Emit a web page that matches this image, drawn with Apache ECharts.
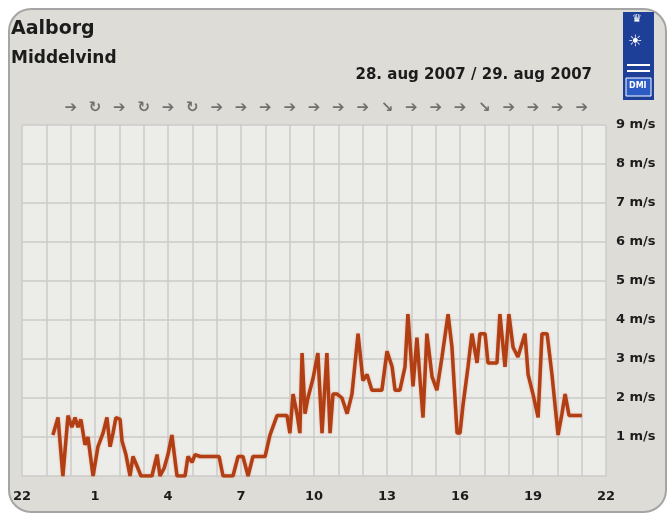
<!DOCTYPE html>
<html>
<head>
<meta charset="utf-8">
<script src="https://cdn.jsdelivr.net/npm/echarts@6/dist/echarts.min.js"></script>
<style>
  html, body { margin: 0; padding: 0; background: #fff; }
  #main { width: 668px; height: 517px; }
</style>
</head>
<body>
<div id="main"></div>
<script>
// hours after 22:00 (28 aug) and mean wind speed in m/s
const hours = [1.27, 1.48, 1.68, 1.89, 2.05, 2.18, 2.30, 2.42, 2.59, 2.71, 2.92, 3.12, 3.33, 3.49, 3.62, 3.74, 3.86, 4.03,
  4.11, 4.27, 4.44, 4.56, 4.73, 4.89, 5.34, 5.55, 5.67, 5.84, 6.00, 6.16, 6.37, 6.70, 6.82, 6.99, 7.11, 7.32, 8.10, 8.26,
  8.67, 8.88, 9.08, 9.29, 9.49, 9.99, 10.19, 10.48, 10.89, 11.01, 11.14, 11.30, 11.42, 11.51, 11.63, 11.75, 11.96, 12.16,
  12.33, 12.53, 12.66, 12.78, 12.95, 13.15, 13.36, 13.56, 13.81, 14.01, 14.18, 14.38, 14.79, 15.00, 15.21, 15.33, 15.53,
  15.74, 15.86, 16.07, 16.23, 16.36, 16.48, 16.64, 16.85, 17.05, 17.26, 17.51, 17.67, 17.88, 18.00, 18.12, 18.33, 18.49,
  18.70, 18.82, 19.03, 19.15, 19.52, 19.64, 19.85, 20.01, 20.18, 20.38, 20.67, 20.80, 21.00, 21.21, 21.37, 21.58, 21.78,
  22.03, 22.19, 22.32, 22.48, 23.01];
const speed = [1.05, 1.5, 0, 1.55, 1.25, 1.5, 1.25, 1.45, 0.8, 1.0, 0, 0.75, 1.1, 1.5, 0.75, 1.1, 1.5, 1.45,
  0.9, 0.55, 0, 0.5, 0.25, 0, 0, 0.55, 0, 0.2, 0.55, 1.05, 0, 0, 0.5, 0.35, 0.55, 0.5, 0.5, 0,
  0, 0.5, 0.5, 0, 0.5, 0.5, 1.05, 1.55, 1.55, 1.1, 2.1, 1.6, 1.1, 3.15, 1.6, 2.0, 2.5, 3.15,
  1.1, 3.15, 1.1, 2.1, 2.1, 2.0, 1.6, 2.1, 3.65, 2.45, 2.6, 2.2, 2.2, 3.2, 2.8, 2.2, 2.2,
  2.8, 4.15, 2.3, 3.55, 2.45, 1.5, 3.65, 2.55, 2.2, 3.05, 4.15, 3.3, 1.1, 1.1, 1.8, 2.8, 3.65,
  2.9, 3.65, 3.65, 2.9, 2.9, 4.15, 2.8, 4.15, 3.3, 3.05, 3.65, 2.6, 2.1, 1.5, 3.65, 3.65, 2.6,
  1.05, 1.6, 2.1, 1.55, 1.55];

// hourly wind direction symbols, 00:00 .. 21:00
const dirHours = [2, 3, 4, 5, 6, 7, 8, 9, 10, 11, 12, 13, 14, 15, 16, 17, 18, 19, 20, 21, 22, 23];
const dirs = ['➔', '↻', '➔', '↻', '➔', '↻', '➔', '➔', '➔', '➔', '➔', '➔', '➔', '↘', '➔', '➔', '➔', '↘', '➔', '➔', '➔', '➔'];

const yTicks = [0, 1, 2, 3, 4, 5, 6, 7, 8, 9];

const chart = echarts.init(document.getElementById('main'));
const font = '"DejaVu Sans", Verdana, sans-serif';

chart.setOption({
  animation: false,
  backgroundColor: '#ffffff',
  textStyle: { fontFamily: font },
  graphic: [
    {
      type: 'rect', z: -10,
      shape: { x: 9, y: 9, width: 657, height: 503, r: 22 },
      style: { fill: '#dddcd6', stroke: '#a5a5a5', lineWidth: 2 }
    },
    {
      type: 'rect', z: 5,
      shape: { x: 623, y: 12, width: 31, height: 88 },
      style: { fill: '#1d3f97' }
    },
    { type: 'text', z: 6, left: 632, top: 14, style: { text: '♛', fill: '#fff', font: '11px ' + font } },
    { type: 'text', z: 6, left: 628, top: 34, style: { text: '☀', fill: '#fff', font: '16px ' + font } },
    { type: 'rect', z: 6, shape: { x: 627, y: 64, width: 23, height: 2 }, style: { fill: '#fff' } },
    { type: 'rect', z: 6, shape: { x: 627, y: 70, width: 23, height: 2 }, style: { fill: '#fff' } },
    { type: 'rect', z: 6, shape: { x: 626, y: 78, width: 25, height: 18 }, style: { fill: '#2b5bc4', stroke: '#fff', lineWidth: 1 } },
    { type: 'text', z: 7, left: 629, top: 82, style: { text: 'DMI', fill: '#fff', font: 'bold 8px ' + font } },
    { type: 'text', left: 11, top: 20, style: { text: 'Aalborg', fill: '#1c1c1c', font: 'bold 19px ' + font } },
    { type: 'text', left: 11, top: 50, style: { text: 'Middelvind', fill: '#1c1c1c', font: 'bold 17px ' + font } },
    { type: 'text', right: 76, top: 68, style: { text: '28. aug 2007 / 29. aug 2007', fill: '#1c1c1c', font: 'bold 15px ' + font } }
  ],
  grid: [
    { left: 22, right: 62, top: 125, bottom: 41, show: true, backgroundColor: '#ecece9', borderWidth: 0 },
    { left: 22, right: 62, top: 100, height: 16, show: false }
  ],
  xAxis: [
    {
      type: 'value', gridIndex: 0, min: 0, max: 24, interval: 1,
      axisLine: { show: false },
      axisTick: { show: false },
      splitLine: { show: true, lineStyle: { color: '#cbcbc8', width: 1.5 } },
      axisLabel: {
        margin: 14, color: '#1c1c1c', fontWeight: 'bold', fontSize: 13,
        formatter: v => (v % 3 === 0 ? String((v + 22) % 24) : '')
      }
    },
    { type: 'value', gridIndex: 1, min: 0, max: 24, show: false }
  ],
  yAxis: [
    {
      type: 'value', gridIndex: 0, position: 'right', min: 0, max: 9, interval: 1,
      axisLine: { show: false },
      axisTick: { show: false },
      splitLine: { show: true, lineStyle: { color: '#cbcbc8', width: 1.5 } },
      axisLabel: {
        margin: 10, color: '#1c1c1c', fontWeight: 'bold', fontSize: 13,
        formatter: v => (yTicks.indexOf(v) > 0 ? v + ' m/s' : '')
      }
    },
    { type: 'value', gridIndex: 1, min: 0, max: 1, show: false }
  ],
  series: [
    {
      name: 'Middelvind',
      type: 'line',
      xAxisIndex: 0, yAxisIndex: 0,
      data: hours.map((h, i) => [h, speed[i]]),
      symbol: 'none',
      lineStyle: { color: '#b23f14', width: 3.5, shadowColor: 'rgba(220,140,110,0.7)', shadowBlur: 2 }
    },
    {
      name: 'Retning',
      type: 'scatter',
      xAxisIndex: 1, yAxisIndex: 1,
      data: dirHours.map(h => [h, 0.5]),
      symbolSize: 1,
      itemStyle: { color: 'transparent' },
      label: {
        show: true, position: 'inside', color: '#555', fontWeight: 'bold', fontSize: 15,
        formatter: p => dirs[p.dataIndex]
      }
    }
  ]
});
</script>
</body>
</html>
